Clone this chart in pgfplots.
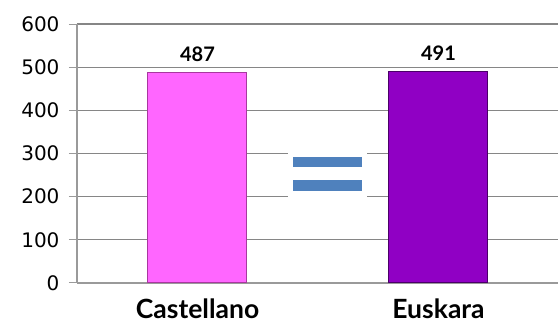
\documentclass[border=0pt]{standalone}
\usepackage{pgfplots}
\pgfplotsset{compat=1.18}
\usepackage{fontspec}
\setmainfont{DejaVu Sans}
\newfontfamily\labfont{Lato}
\definecolor{gridgray}{HTML}{868686}
\definecolor{axisgray}{HTML}{9A9A9A}
\definecolor{castcol}{HTML}{FF66FF}
\definecolor{castedge}{HTML}{A8389F}
\definecolor{euskcol}{HTML}{9000C4}
\definecolor{euskedge}{HTML}{4A0068}
\definecolor{eqblue}{HTML}{4F81BD}
\begin{document}
\begin{tikzpicture}
\useasboundingbox (-77pt,-44pt) rectangle (481pt,283pt);
\begin{axis}[
  at={(0,0)}, anchor=south west,
  scale only axis,
  width=482pt, height=259pt,
  xmin=-0.5, xmax=1.5,
  ymin=0, ymax=600,
  ytick={0,100,...,600},
  xtick={0,1},
  xticklabels={Castellano,Euskara},
  extra x ticks={-0.5,0.5,1.5},
  extra x tick labels={},
  extra x tick style={major tick length=8pt, tick align=outside, grid=none,
    tick style={axisgray, line width=1pt}},
  major x tick style={draw=none},
  major tick length=8pt,
  tick align=outside,
  axis lines*=left,
  axis line style={axisgray, line width=1.2pt},
  ymajorgrids,
  grid style={gridgray, line width=1.2pt},
  ytick style={axisgray, line width=1pt},
  yticklabel style={font=\fontsize{20}{20}\selectfont, text=black, xshift=-6pt},
  xticklabel style={font=\labfont\bfseries\fontsize{26.5}{26.5}\selectfont, text=black, yshift=-7pt, inner sep=1pt},
  /pgf/number format/assume math mode=true,
  ybar, bar width=99pt, bar shift=0pt,
  nodes near coords,
  every node near coord/.append style={font=\labfont\bfseries\fontsize{20}{20}\selectfont, text=black, yshift=7pt},
  clip=false,
]
\addplot[fill=castcol, draw=castedge, line width=1pt] coordinates {(0,487)};
\addplot[fill=euskcol, draw=euskedge, line width=1pt] coordinates {(1,491)};
% equality sign between the two bars
\fill[white] (axis cs:0.375,198) rectangle (axis cs:0.703,305);
\fill[eqblue] (axis cs:0.396,269) rectangle (axis cs:0.683,292);
\fill[eqblue] (axis cs:0.396,213) rectangle (axis cs:0.683,239);
\end{axis}
\end{tikzpicture}
\end{document}
